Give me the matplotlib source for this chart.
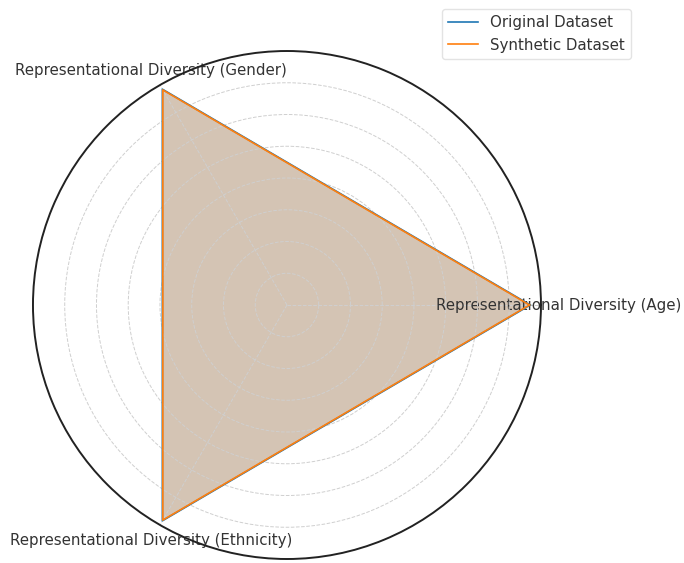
import numpy as np
import matplotlib
matplotlib.use("Agg")
from matplotlib import pyplot as plt

# categories and scores
categories = ["Representational Diversity (Age)",
              "Representational Diversity (Gender)",
              "Representational Diversity (Ethnicity)"]
original = [0.958, 0.981, 0.981]
synthetic = [0.955, 0.978, 0.978]

n = len(categories)
angles = [i * 2 * np.pi / n for i in range(n)]
angles_closed = angles + angles[:1]
orig_closed = original + original[:1]
syn_closed = synthetic + synthetic[:1]

fig = plt.figure(figsize=(6.84, 5.63), dpi=100)
ax = fig.add_axes([0.0482, 0.0071, 0.7427, 0.9023], polar=True)

ax.plot(angles_closed, orig_closed, color="#1f77b4", linewidth=1.2, label="Original Dataset")
ax.fill(angles_closed, orig_closed, color="#1f77b4", alpha=0.25)
ax.plot(angles_closed, syn_closed, color="#ff7f0e", linewidth=1.2, label="Synthetic Dataset")
ax.fill(angles_closed, syn_closed, color="#ff7f0e", alpha=0.25)

ax.set_xticks(angles)
ax.set_xticklabels(categories, fontsize=10.8, color="#333333")
ax.tick_params(axis="x", pad=2)
ax.set_ylim(0, 1)
ax.set_yticks(np.arange(1, 9) / 8)
ax.set_yticklabels([])
ax.grid(True, linestyle="--", color="#cfcfcf", linewidth=0.7)
ax.spines["polar"].set_color("#222222")
ax.spines["polar"].set_linewidth(1.4)

fig.legend(loc="upper right", bbox_to_anchor=(0.933, 0.997), fontsize=10.8,
           frameon=True, edgecolor="#dddddd", labelcolor="#333333")

fig.savefig("out.png", dpi=100)
